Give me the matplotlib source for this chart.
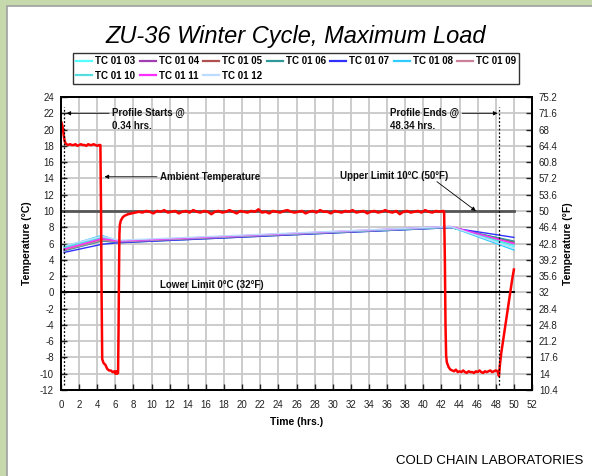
import numpy as np
import matplotlib
matplotlib.use('Agg')
from matplotlib import pyplot as plt
from matplotlib.patches import Rectangle

plt.rcParams['font.family'] = ['Liberation Sans', 'DejaVu Sans']
plt.rcParams['axes.unicode_minus'] = False

# ambient temperature (deg C), pieced together from segments
amb_start_t = [0.0, 0.1, 0.2, 0.3, 0.4, 0.5, 0.6]
amb_start_c = [21.0, 20.7, 20.2, 19.3, 18.6, 18.3, 18.2]
amb_p1_t = np.arange(0.8, 4.21, 0.2)
amb_p1_c = [18.1, 18.2, 18.1, 18.1, 18.2, 18.0, 18.1, 18.2, 18.1, 18.1, 18.0, 18.2,
            18.1, 18.1, 18.2, 18.1, 18.0, 18.1]
amb_d1_t = [4.35, 4.42, 4.48, 4.55, 4.7, 4.9, 5.1, 5.3, 5.5, 5.7, 5.9, 6.0, 6.1, 6.2,
            6.3, 6.35, 6.4, 6.45, 6.5, 6.6, 6.8]
amb_d1_c = [18.1, 10.0, 0.0, -8.2, -8.7, -8.9, -9.4, -9.6, -9.6, -9.8, -9.7, -10.0, -9.7,
            -10.0, -9.9, -5.0, 2.0, 7.2, 8.3, 8.8, 9.2]
amb_p2_t = np.arange(7.0, 42.21, 0.4)
amb_p2_c = [9.4, 9.6, 9.7, 9.8, 9.9, 9.8, 10.0, 9.9, 9.7, 10.0,
            9.9, 10.1, 9.8, 9.9, 10.0, 9.7, 9.9, 10.0, 9.8, 10.1,
            9.9, 9.8, 10.0, 9.9, 9.6, 9.9, 10.0, 9.8, 9.9, 10.1,
            9.9, 9.7, 10.0, 9.9, 9.8, 10.0, 9.9, 10.2, 9.8, 9.9,
            9.7, 10.0, 9.9, 9.8, 10.0, 10.1, 9.9, 9.8, 9.9, 10.0,
            9.7, 9.9, 10.0, 9.8, 10.1, 9.9, 9.9, 9.7, 10.0, 9.9,
            9.8, 10.0, 9.9, 10.1, 9.8, 9.9, 10.0, 9.7, 9.9, 10.0,
            9.8, 9.9, 10.1, 9.9, 9.8, 10.0, 9.6, 9.9, 10.0, 9.8,
            9.9, 10.0, 9.8, 10.1, 9.9, 9.8, 10.0, 9.9, 10.0]
amb_d2_t = [42.3, 42.38, 42.45, 42.52, 42.6, 42.8, 43.0]
amb_d2_c = [9.9, 4.0, -4.0, -7.8, -8.6, -9.2, -9.5]
amb_p3_t = np.arange(43.2, 48.01, 0.2)
amb_p3_c = [-9.6, -9.7, -9.5, -9.8, -9.7, -9.8, -9.6, -9.8, -9.9, -9.7, -9.8, -9.8, -9.9,
            -9.7, -9.8, -9.6, -9.8, -9.9, -9.7, -9.8, -9.7, -9.6, -9.8, -9.7, -9.6]
amb_end_t = [48.2, 48.3, 48.35, 48.45, 48.6, 49.0, 49.4, 49.8, 50.0]
amb_end_c = [-9.7, -10.0, -10.3, -9.0, -7.5, -4.5, -1.5, 1.5, 2.8]

# thermocouples: value at each knot time
tc_t = [0.34, 4.5, 6.4, 43.0, 50.0]
tc_names = ['TC 01 03', 'TC 01 04', 'TC 01 05', 'TC 01 06', 'TC 01 07',
            'TC 01 08', 'TC 01 09', 'TC 01 10', 'TC 01 11', 'TC 01 12']
tc_vals = [
    [5.4, 6.8, 6.3, 8.0, 5.6],
    [5.2, 6.4, 6.2, 8.05, 6.1],
    [5.3, 6.5, 6.2, 8.0, 6.2],
    [5.1, 6.3, 6.1, 7.95, 6.3],
    [4.9, 5.9, 6.1, 7.95, 6.75],
    [5.6, 7.0, 6.3, 8.05, 5.2],
    [5.2, 6.4, 6.2, 8.0, 6.0],
    [5.5, 6.7, 6.3, 8.0, 5.8],
    [5.3, 6.6, 6.3, 8.1, 6.0],
    [5.7, 6.9, 6.4, 8.1, 5.4],
]
tc_colors = ['#55ffff', '#a040b0', '#b05050', '#309898', '#3030ff',
             '#30ccff', '#cc7f99', '#55dddd', '#ff30ff', '#bcdcff']

c_ticks = list(range(-12, 25, 2))
f_labels = ['10.4', '14', '17.6', '21.2', '24.8', '28.4', '32', '35.6', '39.2', '42.8',
            '46.4', '50', '53.6', '57.2', '60.8', '64.4', '68', '71.6', '75.2']
x_ticks = list(range(0, 53, 2))

fig = plt.figure(figsize=(5.92, 4.76), dpi=100, facecolor='#c6d9ad')
fig.patches.append(Rectangle((7 / 592, -0.01), 1.0, 1 - 6 / 476 + 0.01, transform=fig.transFigure,
                             facecolor='white', edgecolor='#a0a0a0', lw=1.2, zorder=-5))

ax = fig.add_axes([61 / 592, 86 / 476, 471 / 592, 293 / 476])
ax.set_xlim(0, 52)
ax.set_ylim(-12, 24)
ax.set_xticks(x_ticks)
ax.set_yticks(c_ticks)
ax.grid(True, color='#c8c8c8', lw=1.3)
ax.set_axisbelow(True)
ax.tick_params(direction='in', length=4, width=1, labelsize=7, colors='#222222', pad=5)
ax.tick_params(axis='x', pad=7)
for s in ax.spines.values():
    s.set_linewidth(1.4)

handles = []
for name, vals, col in zip(tc_names, tc_vals, tc_colors):
    h, = ax.plot(tc_t, vals, color=col, lw=1.0, label=name)
    handles.append(h)

ax.plot([0, 50], [10, 10], color='#555555', lw=2.0, zorder=3)
ax.plot([0, 50], [0, 0], color='black', lw=1.4, zorder=3)

amb_t = np.concatenate([amb_start_t, amb_p1_t, amb_d1_t, amb_p2_t, amb_d2_t, amb_p3_t, amb_end_t])
amb_c = np.concatenate([amb_start_c, amb_p1_c, amb_d1_c, amb_p2_c, amb_d2_c, amb_p3_c, amb_end_c])
ax.plot(amb_t, amb_c, color='#ff0000', lw=1.8, zorder=4)

for xv in [0.34, 48.34]:
    ax.plot([xv, xv], [-11.4, 22.8], color='black', lw=0.9, ls=(0, (1.5, 1.5)), zorder=5)

bold = dict(fontsize=7, fontweight='bold', color='#111111')
arrow = dict(arrowstyle='-|>', color='black', lw=0.6, mutation_scale=6, shrinkA=0, shrinkB=0)
ax.text(5.6, 22.65, 'Profile Starts @\n0.34 hrs.', va='top', ha='left', linespacing=1.35, **bold)
ax.annotate('', xy=(0.6, 22), xytext=(5.3, 22), arrowprops=arrow)
ax.text(36.3, 22.65, 'Profile Ends @\n48.34 hrs.', va='top', ha='left', linespacing=1.35, **bold)
ax.annotate('', xy=(48.2, 22), xytext=(44.3, 22), arrowprops=arrow)
ax.text(10.9, 14.2, 'Ambient Temperature', va='center', ha='left', **bold)
ax.annotate('', xy=(4.8, 14.2), xytext=(10.6, 14.2), arrowprops=arrow)
ax.text(30.8, 14.3, 'Upper Limit 10°C (50°F)', va='center', ha='left', **bold)
ax.annotate('', xy=(45.8, 10.0), xytext=(41.5, 13.6), arrowprops=arrow)
ax.text(10.9, 0.9, 'Lower Limit 0°C (32°F)', va='center', ha='left', **bold)

ax.set_xlabel('Time (hrs.)', fontsize=7.5, fontweight='bold', labelpad=5)
ax.set_ylabel('Temperature (°C)', fontsize=7.5, fontweight='bold', labelpad=6)

ax2 = ax.twinx()
ax2.set_ylim(-12, 24)
ax2.set_yticks(c_ticks)
ax2.set_yticklabels(f_labels)
ax2.tick_params(direction='in', length=4, width=1, labelsize=7, colors='#222222', pad=5)
ax2.set_ylabel('Temperature (°F)', fontsize=7.5, fontweight='bold', rotation=90, labelpad=4)
for s in ax2.spines.values():
    s.set_linewidth(1.4)

fig.text(296 / 592, 1 - 37 / 476, 'ZU-36 Winter Cycle, Maximum Load', fontsize=17,
         style='italic', ha='center', va='center')

order = [0, 7, 1, 8, 2, 9, 3, 4, 5, 6]
leg = fig.legend([handles[i] for i in order], [tc_names[i] for i in order],
                 loc='upper left', bbox_to_anchor=(73 / 592, 1 - 53 / 476), ncol=7,
                 prop=dict(size=7, weight='bold'), frameon=True, fancybox=False,
                 edgecolor='black', handlelength=1.65, handletextpad=0.3, columnspacing=0.45,
                 labelspacing=0.45, borderpad=0.35, borderaxespad=0)
leg.get_frame().set_linewidth(1.0)
for lh in leg.get_lines():
    lh.set_linewidth(1.6)

fig.text(583 / 592, 1 - 464 / 476, 'COLD CHAIN LABORATORIES', fontsize=9.5,
         ha='right', va='baseline')

plt.savefig('out.png', dpi=100, facecolor=fig.get_facecolor())
